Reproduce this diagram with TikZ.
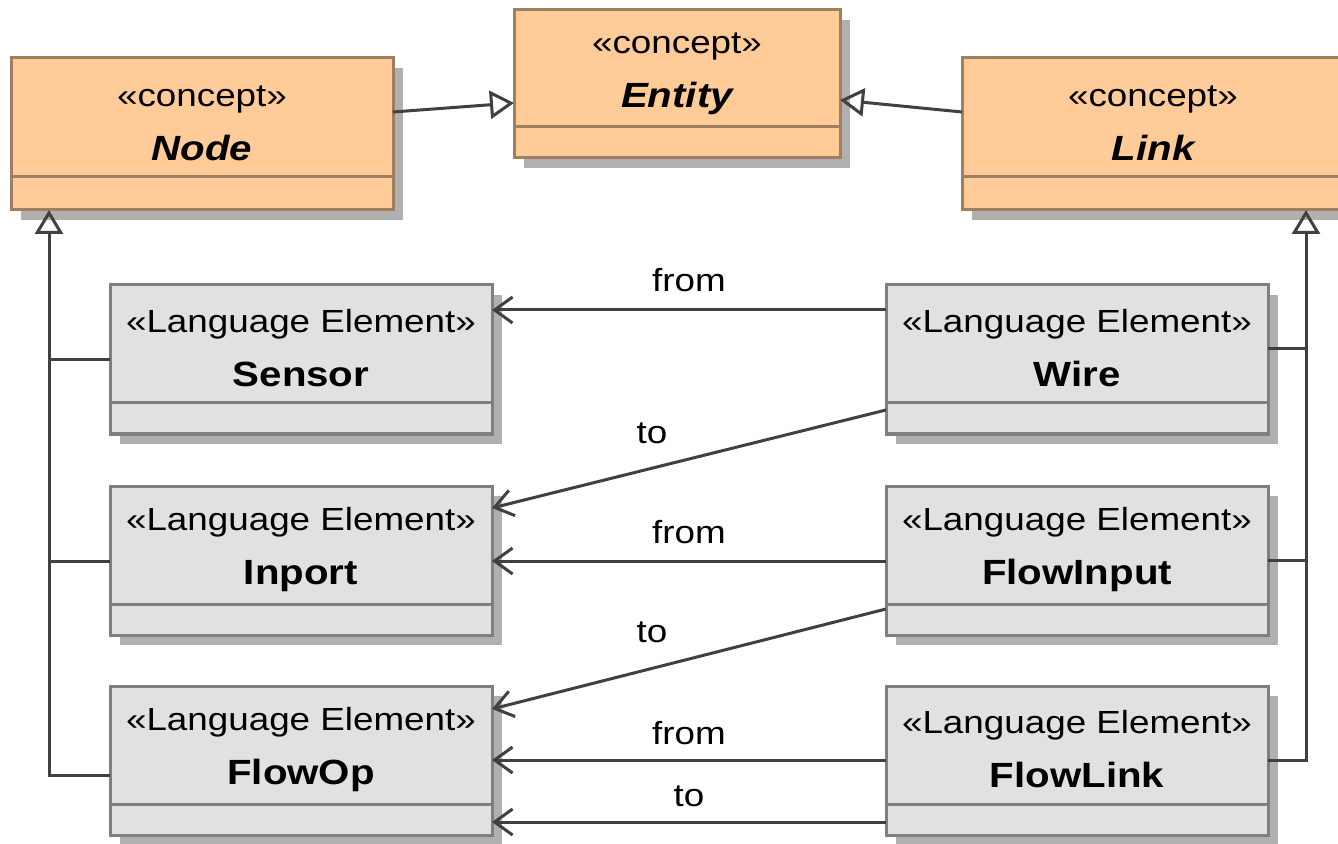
\documentclass[tikz,border=0pt]{standalone}
\usepackage{fontspec}
\setmainfont[FakeStretch=1.15]{Liberation Sans}
\usetikzlibrary{arrows.meta,positioning,shadows}

\definecolor{conceptfill}{HTML}{FFCC99}
\definecolor{conceptdraw}{HTML}{A07F60}
\definecolor{langfill}{HTML}{E1E1E1}
\definecolor{langdraw}{HTML}{7F7F7F}
\definecolor{linkgray}{HTML}{404040}
\definecolor{shadowgray}{HTML}{B0B0B0}

\newcommand{\stereotype}[1]{\rule{0pt}{16pt}#1}
\newcommand{\classname}[1]{{\fontsize{17.5}{27}\selectfont\bfseries #1}}

\tikzset{
  classbox/.style={rectangle, line width=1.5pt, outer sep=0pt, inner sep=0pt, align=center,
    font=\fontsize{16}{27}\selectfont,
    drop shadow={shadow xshift=5pt, shadow yshift=-5pt, fill=shadowgray, opacity=1}},
  concept/.style={classbox, fill=conceptfill, draw=conceptdraw, minimum width=191pt},
  langel/.style={classbox, fill=langfill, draw=langdraw, minimum width=191pt, minimum height=59pt},
  langfoot/.style={classbox, fill=langfill, draw=langdraw, minimum width=191pt, minimum height=15.5pt},
  gen/.style={draw=linkgray, line width=1.5pt, -{Triangle[open, length=12pt, width=14pt]}},
  genline/.style={draw=linkgray, line width=1.5pt},
  assoc/.style={draw=linkgray, line width=1.5pt, -{Straight Barb[length=9pt, width=13pt]}},
  rolename/.style={inner sep=0pt, font=\fontsize{16}{20}\selectfont, text=black}
}

\begin{document}
\begin{tikzpicture}[x=0.5pt, y=-0.5pt]
\useasboundingbox (0,0) rectangle (1338,844);

\node[concept, minimum width=163pt, minimum height=58.5pt] (entity) at (677,68.5) {\stereotype{«concept»}\\\classname{\itshape Entity}};
\node[concept, minimum width=163pt, minimum height=15.5pt, below=0pt of entity] (entityf) {};
\node[concept, minimum height=59.5pt] (node) at (202,117.5) {\stereotype{«concept»}\\\classname{\itshape Node}};
\node[concept, minimum height=16.5pt, below=0pt of node] (nodef) {};
\node[concept, minimum height=59.5pt] (link) at (1153,117.5) {\stereotype{«concept»}\\\classname{\itshape Link}};
\node[concept, minimum height=16.5pt, below=0pt of link] (linkf) {};

\node[langel] (sensor) at (301,344) {\stereotype{«Language Element»}\\\classname{Sensor}};
\node[langfoot, below=0pt of sensor] (sensorf) {};
\node[langel] (inport) at (301,545) {\stereotype{«Language Element»}\\\classname{Inport}};
\node[langfoot, below=0pt of inport] (inportf) {};
\node[langel] (flowop) at (301,745) {\stereotype{«Language Element»}\\\classname{FlowOp}};
\node[langfoot, below=0pt of flowop] (flowopf) {};

\node[langel] (wire) at (1077,344) {\stereotype{«Language Element»}\\\classname{Wire}};
\node[langfoot, below=0pt of wire] (wiref) {};
\node[langel] (flowinput) at (1077,545) {\stereotype{«Language Element»}\\\classname{FlowInput}};
\node[langfoot, below=0pt of flowinput] (flowinputf) {};
\node[langel] (flowlink) at (1077,745) {\stereotype{«Language Element»}\\\classname{FlowLink}};
\node[langfoot, below=0pt of flowlink] (flowlinkf) {};

\draw[gen] (node.east |- 0,112) -- (entity.west |- 0,103);
\draw[gen] (link.west |- 0,112) -- (entity.east |- 0,100);

\coordinate (lbus) at (49,775);
\draw[gen] (flowop.west |- lbus) -- (lbus) -- (lbus |- nodef.south);
\draw[genline] (sensor.west |- 0,360) -- (lbus |- 0,360);
\draw[genline] (inport.west |- 0,561) -- (lbus |- 0,561);

\coordinate (rbus) at (1306,760);
\draw[gen] (flowlink.east |- rbus) -- (rbus) -- (rbus |- linkf.south);
\draw[genline] (wire.east |- 0,349) -- (rbus |- 0,349);
\draw[genline] (flowinput.east |- 0,560) -- (rbus |- 0,560);

\draw[assoc] (wire.west |- 0,310) -- node[rolename, midway, above=8.5pt] (from1) {from} (sensor.east |- 0,310);
\draw[assoc] (wire.west |- 0,410) -- node[rolename, pos=0.594, above=11.5pt] (to1) {to} (inport.east |- 0,508);
\draw[assoc] (flowinput.west |- 0,561) -- node[rolename, midway, above=8pt] (from2) {from} (inport.east |- 0,561);
\draw[assoc] (flowinput.west |- 0,609) -- node[rolename, pos=0.594, above=12pt] (to2) {to} (flowop.east |- 0,709);
\draw[assoc] (flowlink.west |- 0,760) -- node[rolename, midway, above=7pt] (from3) {from} (flowop.east |- 0,760);
\draw[assoc] (flowlink.west |- 0,822) -- node[rolename, midway, above=7pt] (to3) {to} (flowop.east |- 0,822);
\end{tikzpicture}
\end{document}
